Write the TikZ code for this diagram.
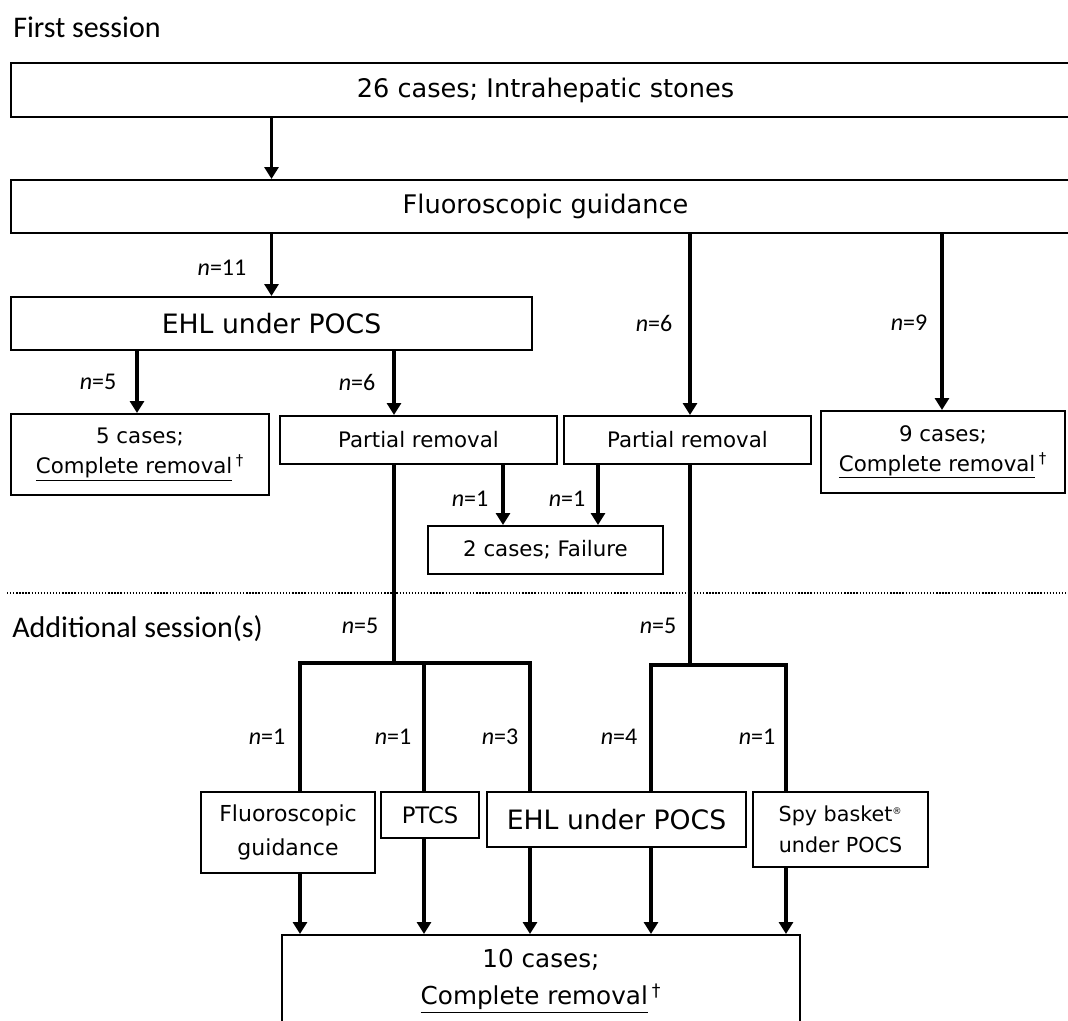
\documentclass[tikz,border=0pt]{standalone}
\usepackage{fontspec}
\setmainfont{DejaVu Sans}
\newfontfamily\lblfont{Carlito}
\usetikzlibrary{arrows.meta}
\begin{document}
\begin{tikzpicture}[x=0.75pt,y=-0.75pt,
  box/.style={draw, line width=1.5pt, inner sep=0pt, align=center, fill=white},
  arr/.style={line width=2.4pt, -{Triangle[length=9pt,width=10.5pt]}},
  ln/.style={line width=2.4pt},
  dotline/.style={line width=0.9pt, dash pattern=on 1pt off 1.3pt},
  nlab/.style={font=\lblfont\fontsize{18}{21}\selectfont, inner sep=0pt},
  ttl/.style={font=\lblfont\fontsize{22.5}{26}\selectfont, inner sep=0pt, anchor=base west}]
\clip (0,0) rectangle (1068,1021);
\fill[white] (0,0) rectangle (1068,1021);

% titles
\node[ttl] (t1) at (13,37) {First session};
\node[ttl] (t2) at (12,637) {Additional session(s)};

% dotted separator
\coordinate (dl) at (7,593);
\coordinate (dr) at (1068,593);
\draw[dotline] (dl) -- (dr);

% first session boxes
\node[box, minimum width=801.75pt, minimum height=40.5pt, font=\fontsize{19.2}{23}\selectfont] (b1) at (545.5,90) {26 cases; Intrahepatic stones};
\node[box, minimum width=801.75pt, minimum height=39.75pt, font=\fontsize{19.2}{23}\selectfont] (b2) at (545.5,206.5) {Fluoroscopic guidance};
\node[box, minimum width=390.75pt, minimum height=39.75pt, font=\fontsize{20}{24}\selectfont] (e1) at (271.5,323.5) {EHL under POCS};
\node[box, minimum width=193.5pt, minimum height=60.75pt, font=\fontsize{16}{22.5}\selectfont] (d5) at (140,454.5) {5 cases;\\ \underline{Complete removal}\,\textsuperscript{†}};
\node[box, minimum width=207.75pt, minimum height=36pt, font=\fontsize{16}{20}\selectfont] (p1) at (418.5,440) {Partial removal};
\node[box, minimum width=185.25pt, minimum height=36pt, font=\fontsize{16}{20}\selectfont] (p2) at (687.5,440) {Partial removal};
\node[box, minimum width=183pt, minimum height=61.5pt, font=\fontsize{16}{22.5}\selectfont] (d9) at (943,452) {9 cases;\\ \underline{Complete removal}\,\textsuperscript{†}};
\node[box, minimum width=176.25pt, minimum height=36pt, font=\fontsize{16}{20}\selectfont] (fl) at (545.5,550) {2 cases; Failure};

% additional session boxes
\node[box, minimum width=130.5pt, minimum height=60.75pt, font=\fontsize{16.5}{25.5}\selectfont] (f2) at (288,832.5) {Fluoroscopic\\ guidance};
\node[box, minimum width=73.5pt, minimum height=34.5pt, font=\fontsize{17}{20}\selectfont] (pt) at (430,815) {PTCS};
\node[box, minimum width=194.25pt, minimum height=41.25pt, font=\fontsize{20}{24}\selectfont] (e2) at (616.5,819.5) {EHL under POCS};
\node[box, minimum width=131.25pt, minimum height=56.25pt, font=\fontsize{15.5}{23}\selectfont] (sp) at (840.5,829.5) {Spy basket\textsuperscript{\scriptsize ®}\\ under POCS};
\node[box, minimum width=388.5pt, minimum height=69pt, font=\fontsize{18.5}{28}\selectfont] (fin) at (541,981) {10 cases;\\ \underline{Complete removal}\,\textsuperscript{†}};

% column coordinates
\coordinate (cA) at (137,0);
\coordinate (cB) at (394,0);
\coordinate (cC) at (503,0);
\coordinate (cD) at (598,0);
\coordinate (cE) at (690,0);
\coordinate (cF) at (942,0);
\coordinate (xa) at (300,0);
\coordinate (xb) at (424,0);
\coordinate (xc) at (530,0);
\coordinate (xd) at (651,0);
\coordinate (xe) at (786,0);
\coordinate (j1) at (394,663);
\coordinate (j2) at (690,665);

% first session connectors
\draw[arr] (b1.south -| e1.north) -- (b2.north -| e1.north);
\draw[arr] (b2.south -| e1.north) -- (e1.north);
\draw[arr] (b2.south -| cE) -- (p2.north -| cE);
\draw[arr] (b2.south -| cF) -- (d9.north -| cF);
\draw[arr] (e1.south -| cA) -- (d5.north -| cA);
\draw[arr] (e1.south -| cB) -- (p1.north -| cB);
\draw[arr] (p1.south -| cC) -- (fl.north -| cC);
\draw[arr] (p2.south -| cD) -- (fl.north -| cD);

% to additional sessions
\draw[ln] (p1.south -| cB) -- (j1);
\draw[ln] (p2.south -| cE) -- (j2);
\draw[ln] (f2.north -| xa) -- (xa |- j1) -- (xc |- j1) -- (e2.north -| xc);
\draw[ln] (xb |- j1) -- (pt.north -| xb);
\draw[ln] (e2.north -| xd) -- (xd |- j2) -- (xe |- j2) -- (sp.north -| xe);

% to final
\draw[arr] (f2.south -| xa) -- (fin.north -| xa);
\draw[arr] (pt.south -| xb) -- (fin.north -| xb);
\draw[arr] (e2.south -| xc) -- (fin.north -| xc);
\draw[arr] (e2.south -| xd) -- (fin.north -| xd);
\draw[arr] (sp.south -| xe) -- (fin.north -| xe);

% labels
\node[nlab] (l1) at (222,268) {{\itshape n}=11};
\node[nlab] (l2) at (98,382) {{\itshape n}=5};
\node[nlab] (l3) at (357,382) {{\itshape n}=6};
\node[nlab] (l4) at (654,323) {{\itshape n}=6};
\node[nlab] (l5) at (909,323) {{\itshape n}=9};
\node[nlab] (l6) at (470,499) {{\itshape n}=1};
\node[nlab] (l7) at (567,499) {{\itshape n}=1};
\node[nlab] (l8) at (360,626) {{\itshape n}=5};
\node[nlab] (l9) at (658,626) {{\itshape n}=5};
\node[nlab] (l10) at (267,737) {{\itshape n}=1};
\node[nlab] (l11) at (393,737) {{\itshape n}=1};
\node[nlab] (l12) at (500,737) {{\itshape n}=3};
\node[nlab] (l13) at (619,737) {{\itshape n}=4};
\node[nlab] (l14) at (757,737) {{\itshape n}=1};
\end{tikzpicture}
\end{document}
